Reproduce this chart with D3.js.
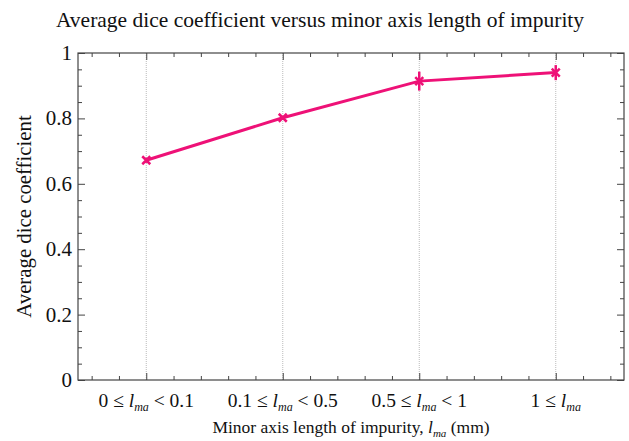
<!DOCTYPE html>
<html>
<head>
<meta charset="utf-8">
<script src="https://cdn.jsdelivr.net/npm/d3@7"></script>
<style>
  body { margin: 0; background: #fff; }
</style>
</head>
<body>
<div id="chart"></div>
<script>
// --- data ---
const categories = [1, 2, 3, 4];
const catLabels = [
  ["0 ≤ ", "< 0.1"],
  ["0.1 ≤ ", "< 0.5"],
  ["0.5 ≤ ", "< 1"],
  ["1 ≤ ", ""]
];
const diceMean = [0.672, 0.802, 0.914, 0.940];
const diceErr = [0.008, 0.006, 0.029, 0.023];
const yTicks = [0, 0.2, 0.4, 0.6, 0.8, 1];

const W = 629, H = 441;
const m = { left: 78, right: 5, top: 53, bottom: 61 };
const pink = "#ee1177";

const svg = d3.select("#chart").append("svg")
  .attr("width", W).attr("height", H);

const x = d3.scaleLinear().domain([0.5, 4.5]).range([m.left, W - m.right]);
const y = d3.scaleLinear().domain([0, 1]).range([H - m.bottom, m.top]);

function txt(sel, fs) {
  return sel.style("font-family", '"Liberation Serif"').attr("font-size", fs).attr("fill", "#111");
}

// dotted vertical grid at categories
svg.append("g").selectAll("line").data(categories).join("line")
  .attr("x1", d => x(d)).attr("x2", d => x(d))
  .attr("y1", y(0)).attr("y2", y(1))
  .attr("stroke", "#bbb").attr("stroke-width", 1)
  .attr("stroke-dasharray", "1,1");

// axes with inward ticks, mirrored on all four sides
const xMinor = d3.range(0.6, 4.5, 0.2).map(v => +v.toFixed(1)).filter(v => !categories.includes(v));
const yMinor = d3.range(0.05, 1, 0.05).map(v => +v.toFixed(2)).filter(v => !yTicks.includes(v));

function tickSet(axisFn, scale, vals, size, transform) {
  svg.append("g").attr("transform", transform)
    .call(axisFn(scale).tickValues(vals).tickSize(size).tickFormat(""))
    .call(g => g.select(".domain").remove())
    .call(g => g.selectAll("line").attr("stroke", "#444"));
}
const bx = `translate(0,${y(0)})`, tx = `translate(0,${y(1)})`;
const lx = `translate(${x(0.5)},0)`, rx = `translate(${x(4.5)},0)`;
tickSet(d3.axisTop, x, categories, 7, bx);
tickSet(d3.axisTop, x, xMinor, 4, bx);
tickSet(d3.axisBottom, x, categories, 7, tx);
tickSet(d3.axisBottom, x, xMinor, 4, tx);
tickSet(d3.axisRight, y, yTicks, 7, lx);
tickSet(d3.axisRight, y, yMinor, 4, lx);
tickSet(d3.axisLeft, y, yTicks, 7, rx);
tickSet(d3.axisLeft, y, yMinor, 4, rx);

// frame
svg.append("rect")
  .attr("x", x(0.5)).attr("y", y(1))
  .attr("width", x(4.5) - x(0.5)).attr("height", y(0) - y(1))
  .attr("fill", "none").attr("stroke", "#444").attr("stroke-width", 1.2);

// y tick labels
svg.append("g").selectAll("text").data(yTicks).join("text")
  .call(txt, 21)
  .attr("x", x(0.5) - 6).attr("y", d => y(d) + 7)
  .attr("text-anchor", "end")
  .text(d => d3.format("~g")(d));

// italic l with subscript ma
function lma(t, sub) {
  t.append("tspan").attr("font-style", "italic").text("l");
  t.append("tspan").attr("font-style", "italic").attr("font-size", sub)
    .attr("dy", 4).text("ma");
}
svg.append("g").selectAll("text").data(categories).join("text")
  .call(txt, 19.5)
  .attr("x", d => x(d)).attr("y", y(0) + 27)
  .attr("text-anchor", "middle")
  .each(function(d, i) {
    const t = d3.select(this);
    t.append("tspan").text(catLabels[i][0]);
    lma(t, 12);
    if (catLabels[i][1]) t.append("tspan").attr("dy", -4).text(" " + catLabels[i][1]);
  });

// line + error bars + markers
svg.append("path")
  .datum(categories)
  .attr("fill", "none").attr("stroke", pink).attr("stroke-width", 3)
  .attr("d", d3.line().x(d => x(d)).y((d, i) => y(diceMean[i])));

svg.append("g").selectAll("line").data(categories).join("line")
  .attr("x1", d => x(d)).attr("x2", d => x(d))
  .attr("y1", (d, i) => y(diceMean[i] - diceErr[i]))
  .attr("y2", (d, i) => y(diceMean[i] + diceErr[i]))
  .attr("stroke", pink).attr("stroke-width", 2.5);

svg.append("g").selectAll("path").data(categories).join("path")
  .attr("transform", (d, i) => `translate(${x(d)},${y(diceMean[i])})`)
  .attr("d", "M-4,-4L4,4M-4,4L4,-4")
  .attr("stroke", pink).attr("stroke-width", 2.5).attr("fill", "none");

// title and axis labels
svg.append("text").call(txt, 21.5)
  .attr("x", 320).attr("y", 27).attr("text-anchor", "middle")
  .text("Average dice coefficient versus minor axis length of impurity");

svg.append("text").call(txt, 20.8)
  .attr("transform", `translate(31,${(y(0) + y(1)) / 2}) rotate(-90)`)
  .attr("text-anchor", "middle")
  .text("Average dice coefficient");

const xl = svg.append("text").call(txt, 17.5)
  .attr("x", (x(0.5) + x(4.5)) / 2).attr("y", 433)
  .attr("text-anchor", "middle");
xl.append("tspan").text("Minor axis length of impurity, ");
lma(xl, 11);
xl.append("tspan").attr("dy", -4).text(" (mm)");
</script>
</body>
</html>
